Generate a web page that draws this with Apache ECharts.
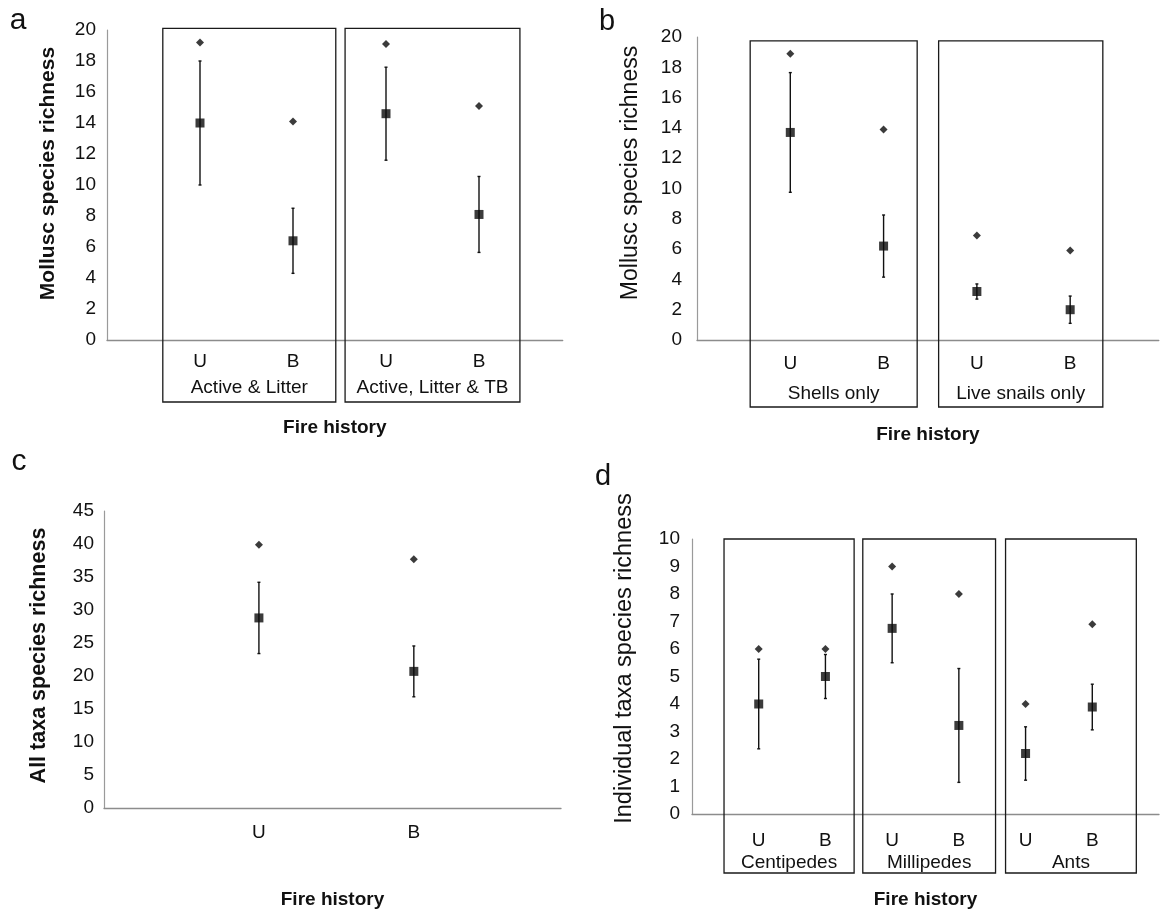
<!DOCTYPE html>
<html>
<head>
<meta charset="utf-8">
<script src="https://cdn.jsdelivr.net/npm/echarts@6/dist/echarts.min.js"></script>
<style>html,body{margin:0;padding:0;background:#fff}#chart{width:1164px;height:913px}</style>
</head>
<body>
<div id="chart"></div>
<script>
// ---------- data ----------
// panel a
const aFire = ['U', 'B', 'U', 'B'];
const aGroups = ['Active & Litter', 'Active, Litter & TB'];
const aMean = [14.0, 6.4, 14.6, 8.1];
const aErr = [4.0, 2.1, 3.0, 2.45];
const aMax = [19.2, 14.1, 19.1, 15.1];
// panel b
const bFire = ['U', 'B', 'U', 'B'];
const bGroups = ['Shells only', 'Live snails only'];
const bMean = [13.7, 6.2, 3.2, 2.0];
const bErr = [3.95, 2.05, 0.5, 0.9];
const bMax = [18.9, 13.9, 6.9, 5.9];
// panel c
const cFire = ['U', 'B'];
const cMean = [28.8, 20.7];
const cErr = [5.4, 3.85];
const cMax = [39.9, 37.7];
// panel d
const dFire = ['U', 'B', 'U', 'B', 'U', 'B'];
const dGroups = ['Centipedes', 'Millipedes', 'Ants'];
const dMean = [4.0, 5.0, 6.75, 3.22, 2.2, 3.89];
const dErr = [1.63, 0.8, 1.25, 2.07, 0.97, 0.83];
const dMax = [6.0, 6.0, 9.0, 8.0, 4.0, 6.9];
// axis ranges (tick labels)
const aYAxis = { max: 20, interval: 2 };
const bYAxis = { max: 20, interval: 2 };
const cYAxis = { max: 45, interval: 5 };
const dYAxis = { max: 10, interval: 1 };
const xName = 'Fire history';

// ---------- layout ----------
const FONT = '"Liberation Sans", Arial, Helvetica, sans-serif';
const panels = [
  { fire: aFire, groups: aGroups, mean: aMean, err: aErr, max: aMax, y: aYAxis,
    yName: 'Mollusc species richness', nameBold: true, nameSize: 21, nameGap: 48, namePad: 23,
    grid: { left: 107, top: 30, width: 455.7, height: 310 }, xMax: 4.9,
    spans: [[0.6, 2.46], [2.56, 4.44]], boxTop: 20.1, boxDrop: 62, grpOff: 48,
    labMargin: 12, fireGap: 78, yLabMargin: 11 },
  { fire: bFire, groups: bGroups, mean: bMean, err: bErr, max: bMax, y: bYAxis,
    yName: 'Mollusc species richness', nameBold: false, nameSize: 23, nameGap: 55, namePad: 31,
    grid: { left: 697, top: 37, width: 461.8, height: 303 }, xMax: 4.95,
    spans: [[0.57, 2.36], [2.59, 4.35]], boxTop: 19.75, boxDrop: 67, grpOff: 54,
    labMargin: 14, fireGap: 85, yLabMargin: 15 },
  { fire: cFire, groups: null, mean: cMean, err: cErr, max: cMax, y: cYAxis,
    yName: 'All taxa species richness', nameBold: true, nameSize: 21.5, nameGap: 54, namePad: 8,
    grid: { left: 104, top: 511, width: 457, height: 297 }, xMax: 2.95,
    spans: null, labMargin: 15, fireGap: 82, yLabMargin: 10 },
  { fire: dFire, groups: dGroups, mean: dMean, err: dErr, max: dMax, y: dYAxis,
    yName: 'Individual taxa species richness', nameBold: false, nameSize: 23.5, nameGap: 55, namePad: 36,
    grid: { left: 692, top: 539, width: 467, height: 275 }, xMax: 7,
    spans: [[0.48, 2.43], [2.56, 4.55], [4.7, 6.66]], boxTop: 10, boxDrop: 59, grpOff: 49,
    labMargin: 17, fireGap: 76, yLabMargin: 12 }
];

const option = {
  backgroundColor: '#fff',
  animation: false,
  textStyle: { fontFamily: FONT, color: '#111' },
  grid: [], xAxis: [], yAxis: [], series: [],
  graphic: [
    { type: 'text', style: { text: 'a', x: 18, y: 21, align: 'center', verticalAlign: 'middle', font: '30px ' + FONT, fill: '#111' } },
    { type: 'text', style: { text: 'b', x: 607, y: 22, align: 'center', verticalAlign: 'middle', font: '29px ' + FONT, fill: '#111' } },
    { type: 'text', style: { text: 'c', x: 19, y: 462, align: 'center', verticalAlign: 'middle', font: '30px ' + FONT, fill: '#111' } },
    { type: 'text', style: { text: 'd', x: 603, y: 477, align: 'center', verticalAlign: 'middle', font: '29px ' + FONT, fill: '#111' } }
  ]
};

panels.forEach((p, i) => {
  option.grid.push(Object.assign({ containLabel: false }, p.grid));
  option.xAxis.push({
    gridIndex: i, type: 'value', min: 0, max: p.xMax, interval: 1,
    axisLine: { show: true, onZero: false, lineStyle: { color: '#8c8c8c', width: 1.3 } },
    axisTick: { show: false }, splitLine: { show: false },
    axisLabel: {
      margin: p.labMargin, fontSize: 19, color: '#111', fontFamily: FONT,
      showMinLabel: true, showMaxLabel: true,
      formatter: v => (Math.abs(v - Math.round(v)) < 1e-6 && v >= 1 && v <= p.fire.length) ? p.fire[Math.round(v) - 1] : ''
    },
    name: xName, nameLocation: 'middle', nameGap: p.fireGap,
    nameTextStyle: { fontSize: 19, fontWeight: 'bold', color: '#111', fontFamily: FONT }
  });
  option.yAxis.push({
    gridIndex: i, type: 'value', min: 0, max: p.y.max, interval: p.y.interval,
    axisLine: { show: true, lineStyle: { color: '#9a9a9a', width: 1.2 } },
    axisTick: { show: false }, splitLine: { show: false },
    axisLabel: { margin: p.yLabMargin, fontSize: 19, color: '#111', fontFamily: FONT },
    name: p.yName, nameLocation: 'middle', nameGap: p.nameGap,
    nameTextStyle: { fontSize: p.nameSize, fontWeight: p.nameBold ? 'bold' : 'normal', color: '#111', fontFamily: FONT, padding: [0, 0, 0, p.namePad] }
  });
  if (p.groups) {
    option.series.push({
      type: 'custom', xAxisIndex: i, yAxisIndex: i, silent: true, z: 1,
      data: p.spans.map((s, k) => [s[0], s[1], k]),
      encode: { x: [0, 1] },
      renderItem: (params, api) => {
        const x0 = api.value(0), x1 = api.value(1), k = api.value(2);
        const tl = api.coord([x0, p.boxTop]);
        const br = api.coord([x1, 0]);
        const bottom = br[1] + p.boxDrop;
        return {
          type: 'group',
          children: [
            { type: 'rect', shape: { x: tl[0], y: tl[1], width: br[0] - tl[0], height: bottom - tl[1] },
              style: { fill: 'none', stroke: '#1a1a1a', lineWidth: 1.3 } },
            { type: 'text', style: { text: p.groups[k], x: (tl[0] + br[0]) / 2, y: br[1] + p.grpOff,
              align: 'center', verticalAlign: 'middle', font: '19px ' + FONT, fill: '#111' } }
          ]
        };
      }
    });
  }
  option.series.push({
    type: 'custom', xAxisIndex: i, yAxisIndex: i, silent: true, z: 2,
    data: p.mean.map((m, k) => [k + 1, m - p.err[k], m + p.err[k]]),
    encode: { x: 0, y: [1, 2] },
    renderItem: (params, api) => {
      const x = api.value(0);
      const lo = api.coord([x, api.value(1)]);
      const hi = api.coord([x, api.value(2)]);
      const st = { stroke: '#111', lineWidth: 1.4 };
      return {
        type: 'group',
        children: [
          { type: 'line', shape: { x1: lo[0], y1: lo[1], x2: hi[0], y2: hi[1] }, style: st },
          { type: 'line', shape: { x1: hi[0] - 1.5, y1: hi[1], x2: hi[0] + 1.5, y2: hi[1] }, style: st },
          { type: 'line', shape: { x1: lo[0] - 1.5, y1: lo[1], x2: lo[0] + 1.5, y2: lo[1] }, style: st }
        ]
      };
    }
  });
  option.series.push({
    type: 'scatter', xAxisIndex: i, yAxisIndex: i, z: 3, silent: true,
    symbol: 'rect', symbolSize: [9, 9], itemStyle: { color: '#0a0a0a' },
    data: p.mean.map((m, k) => [k + 1, m])
  });
  option.series.push({
    type: 'scatter', xAxisIndex: i, yAxisIndex: i, z: 3, silent: true,
    symbol: 'diamond', symbolSize: [8, 8], itemStyle: { color: '#0a0a0a' },
    data: p.max.map((m, k) => [k + 1, m])
  });
});

const chart = echarts.init(document.getElementById('chart'), null, { renderer: 'canvas' });
chart.setOption(option);
</script>
</body>
</html>
